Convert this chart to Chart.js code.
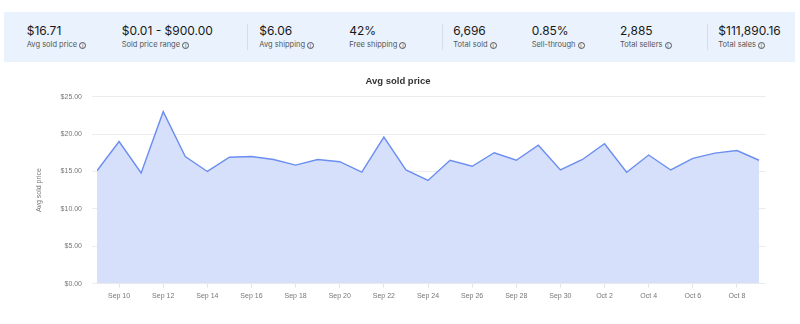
<!DOCTYPE html>
<html><head><meta charset="utf-8">
<script src="https://cdn.jsdelivr.net/npm/chart.js@4.4.1/dist/chart.umd.min.js"></script>
<style>
html,body{margin:0;padding:0;background:#fff;width:800px;height:324px;overflow:hidden;font-family:Inter,"Open Sans",sans-serif;}
#wrap{position:relative;width:800px;height:324px;}
#bar{position:absolute;left:4px;top:12px;width:791px;height:50px;background:#eaf2fd;}
.it{position:absolute;top:0;height:50px;}
.v{position:absolute;top:12px;font-size:12px;line-height:14px;color:#191919;white-space:nowrap;}
.l{position:absolute;top:28px;font-size:7.5px;line-height:9px;color:#555;white-space:nowrap;}
.i{display:inline-block;box-sizing:border-box;width:7px;height:7px;border:0.8px solid #555;border-radius:50%;font-size:5.5px;line-height:6px;text-align:center;margin-left:2px;vertical-align:-0.5px;color:#555;}
.sep{position:absolute;top:12px;width:1px;height:26px;background:#d6dde8;}
canvas{position:absolute;left:0;top:0;}
</style></head>
<body><div id="wrap">
<canvas id="c" width="800" height="324"></canvas>
<div id="bar"></div>
</div>
<script>
const summaryValues = ['$16.71','$0.01 - $900.00','$6.06','42%','6,696','0.85%','2,885','$111,890.16'];
const summaryLabels = ['Avg sold price','Sold price range','Avg shipping','Free shipping','Total sold','Sell-through','Total sellers','Total sales'];
const dates = ['Sep 9','Sep 10','Sep 11','Sep 12','Sep 13','Sep 14','Sep 15','Sep 16','Sep 17','Sep 18','Sep 19','Sep 20','Sep 21','Sep 22','Sep 23','Sep 24','Sep 25','Sep 26','Sep 27','Sep 28','Sep 29','Sep 30','Oct 1','Oct 2','Oct 3','Oct 4','Oct 5','Oct 6','Oct 7','Oct 8','Oct 9'];
const avgPrice = [15.1,19.0,14.8,23.0,17.0,15.0,16.9,17.0,16.6,15.85,16.6,16.3,14.9,19.6,15.2,13.8,16.5,15.7,17.5,16.5,18.5,15.2,16.6,18.7,14.9,17.2,15.2,16.75,17.45,17.8,16.5];
const yTicks = [0,5,10,15,20,25];

// summary bar
const xs = [22.7,117.7,255.3,345.3,449.3,527.7,616,714.3];
const seps = [243.3,438.3,702.7];
const bar = document.getElementById('bar');
summaryValues.forEach((v,k)=>{
  const d = document.createElement('div');
  d.className='it'; d.style.left = xs[k]+'px';
  d.innerHTML = '<div class="v">'+v+'</div><div class="l">'+summaryLabels[k]+'<span class="i">i</span></div>';
  bar.appendChild(d);
});
seps.forEach(x=>{const s=document.createElement('div');s.className='sep';s.style.left=x+'px';bar.appendChild(s);});

const tickIdx = dates.map((d,i)=>i).filter(i=>i%2===1);
new Chart(document.getElementById('c'),{
  type:'line',
  data:{datasets:[{
    label:'Avg sold price',
    data: avgPrice.map((v,i)=>({x:i,y:v})),
    borderColor:'#6b8ef0',
    backgroundColor:'#d6e0fa',
    borderWidth:1.4,
    fill:'origin',
    pointRadius:0,
    tension:0
  }]},
  options:{
    responsive:false,animation:false,
    layout:{padding:{top:66,left:30,right:34,bottom:20}},
    plugins:{
      legend:{display:false},tooltip:{enabled:false},
      title:{display:true,text:'Avg sold price',color:'#333',font:{family:'Arial, "Liberation Sans"',size:9.5,weight:'bold'},padding:{top:9.3,bottom:10}}
    },
    scales:{
      x:{type:'linear',min:0,max:30.317,
        afterBuildTicks:s=>{s.ticks = tickIdx.map(v=>({value:v}));},
        ticks:{callback:(v)=>dates[v],color:'#777',font:{family:'Arial, "Liberation Sans"',size:7},padding:4,maxRotation:0,autoSkip:false},
        grid:{drawOnChartArea:false,drawTicks:true,tickLength:4,color:'#e4e4e4'},
        border:{display:false}
      },
      y:{min:0,max:25,
        afterBuildTicks:s=>{s.ticks = yTicks.map(v=>({value:v}));},
        afterFit:s=>{s.width = 67;},
        ticks:{callback:v=>'$'+v.toFixed(2),color:'#777',font:{family:'Arial, "Liberation Sans"',size:7},padding:10},
        grid:{color:'#ececec',tickLength:5,lineWidth:1},
        border:{display:false},
        title:{display:true,text:'Avg sold price',color:'#777',font:{family:'Arial, "Liberation Sans"',size:7},padding:{top:4.8,bottom:0}}
      }
    }
  }
});
</script>
</body></html>
